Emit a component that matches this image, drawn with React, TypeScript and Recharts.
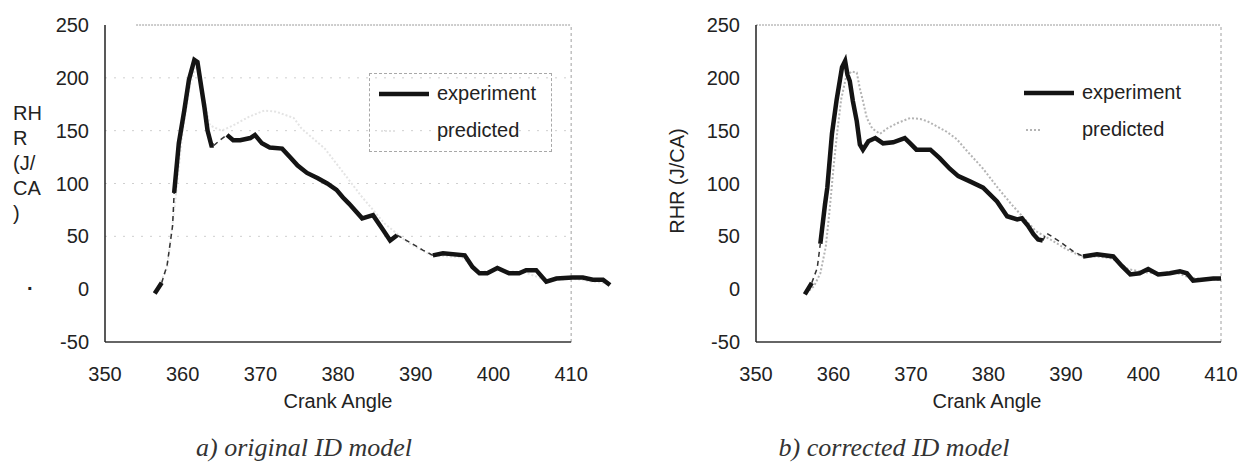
import React from "react";
import { LineChart, Line, XAxis, YAxis, ReferenceLine, Legend } from "recharts";

type Pt = [number, number | null];

const angleTicks = [350, 360, 370, 380, 390, 400, 410];
const rhrTicks = [-50, 0, 50, 100, 150, 200, 250];
const gridValues = [50, 100, 150, 200];

// a) original ID model
const expA: Pt[] = [
  [356.4, -4], [357.3, 6], [357.8, null],
  [358.9, 91], [359.5, 138], [360.2, 169], [360.8, 198], [361.5, 217], [361.9, 215],
  [362.4, 191], [362.8, 172], [363.2, 150], [363.7, 136], [364.0, 136], [364.8, null],
  [365.7, 146], [366.5, 141], [367.4, 141], [368.7, 143], [369.3, 146], [370.2, 138],
  [371.2, 134], [372.8, 133], [373.8, 125], [374.8, 117], [376.0, 110], [377.4, 105],
  [378.6, 100], [379.8, 94], [380.6, 87], [381.4, 81], [383.1, 67], [384.5, 70],
  [385.8, 56], [386.7, 46], [387.6, 51], [389.5, null],
  [392.2, 32], [393.5, 34], [396.3, 32], [397.3, 21], [398.2, 15], [399.2, 15],
  [400.5, 20], [402.0, 15], [403.3, 15], [404.2, 18], [405.5, 18], [406.8, 7],
  [408.1, 10], [410.2, 11], [411.5, 11], [412.8, 9], [414.1, 9], [415.0, 4],
];
const expABridge: Pt[] = [
  [357.3, 6], [358.0, 23], [358.7, 60], [358.9, 91], [361, null],
  [364.0, 136], [364.8, 141], [365.7, 146], [375, null],
  [387.6, 51], [389.3, 44], [390.9, 37], [392.2, 32],
];
const predA: Pt[] = [
  [356.5, -3], [358, 20], [359, 80], [360, 150], [361, 195], [361.8, 212], [362.5, 190],
  [363.5, 155], [365, 150], [366.5, 155], [368.5, 163], [370.5, 169], [372, 168],
  [374.3, 162], [375.3, 152], [378.3, 133], [380.5, 112], [383, 88], [386, 62],
  [389, 44], [392, 32], [396, 30], [398, 16], [400, 18], [404, 16], [407, 8],
  [410, 10], [415, 5],
];

// b) corrected ID model
const expB: Pt[] = [
  [356.3, -5], [357.2, 6], [357.8, null],
  [358.3, 43], [358.9, 80], [359.2, 96], [359.8, 147], [360.4, 179], [361.1, 210],
  [361.5, 216], [361.8, 203], [362.1, 197], [362.5, 178], [363.0, 159], [363.4, 137],
  [363.8, 132], [364.5, 140], [365.4, 143], [366.4, 138], [367.7, 139], [369.2, 143],
  [369.9, 138], [370.7, 132], [372.5, 132], [373.7, 124], [375.0, 114], [376.1, 107],
  [377.6, 102], [379.3, 96], [381.1, 83], [382.4, 69], [383.7, 66], [384.3, 67],
  [385.1, 60], [385.8, 52], [386.4, 47], [387.0, 46], [389.5, null],
  [392.2, 31], [394.0, 33], [396.1, 31], [397.2, 22], [398.3, 14], [399.5, 15],
  [400.6, 19], [401.9, 14], [403.4, 15], [404.7, 17], [405.6, 15], [406.4, 8],
  [407.5, 9], [409.0, 10], [410, 10],
];
const expBBridge: Pt[] = [
  [357.2, 6], [357.9, 20], [358.3, 43], [370, null],
  [387.0, 46], [387.5, 53], [389.2, 45], [390.9, 36], [392.2, 31],
];
const predB: Pt[] = [
  [356.5, -4], [357.5, 3], [358.3, 15], [359.0, 40], [359.5, 75], [360.0, 115],
  [360.5, 150], [361.0, 180], [361.6, 200], [362.3, 206], [363.0, 205], [363.4, 190],
  [363.8, 178], [364.3, 162], [365.0, 152], [366.0, 147], [366.9, 152], [368.2, 157],
  [369.9, 162], [371.2, 161], [372.1, 159], [374.6, 149], [375.9, 142], [377.2, 131],
  [379.3, 114], [381.3, 95], [383.0, 80], [384.6, 67], [386.1, 55], [388, 47],
  [390, 38], [392, 31], [394, 31], [396, 29], [398, 19], [400, 16], [402, 15],
  [404, 16], [406, 11], [408, 9], [410, 9],
];

const rows = (pts: Pt[]) => pts.map(([a, v]) => ({ a, v }));

const SANS = "'Liberation Sans', Arial, sans-serif";
const tickStyle = { fill: "#222", fontSize: 20, fontFamily: SANS };

function LegendBox({ payload, boxed, predColor }: any) {
  const items = (payload || [])
    .filter((p: any) => p.value === "experiment" || p.value === "predicted")
    .sort((a: any, b: any) => (a.value === "experiment" ? -1 : 0) - (b.value === "experiment" ? -1 : 0));
  return (
    <div
      style={{
        border: boxed ? "1px dashed #a8a8a8" : "none",
        height: 79,
        boxSizing: "border-box",
        fontFamily: SANS,
        fontSize: 20,
        color: "#222",
      }}
    >
      {items.map((it: any, i: number) => (
        <div key={it.value} style={{ display: "flex", alignItems: "center", height: 37, marginTop: i === 0 ? 1 : 0 }}>
          <svg width={58} height={10} style={{ marginLeft: 9 }}>
            {it.value === "experiment" ? (
              <line x1={0} y1={5} x2={50} y2={5} stroke="#141414" strokeWidth={4.5} />
            ) : (
              <line x1={2} y1={5} x2={16} y2={5} stroke={predColor} strokeWidth={2} strokeDasharray="2 2" />
            )}
          </svg>
          <span>{it.value}</span>
        </div>
      ))}
    </div>
  );
}

function Panel(props: {
  width: number;
  marginLeft: number;
  marginRight: number;
  xMax: number;
  exp: Pt[];
  bridge: Pt[];
  pred: Pt[];
  predColor: string;
  boxed: boolean;
  legendLeft: number;
  topFrom: number;
  grid: boolean;
}) {
  const { width, marginLeft, marginRight, xMax, exp, bridge, pred, predColor, boxed, legendLeft, topFrom, grid } = props;
  return (
    <LineChart
      width={width}
      height={464}
      margin={{ top: 25, right: marginRight, left: marginLeft, bottom: 82 }}
    >
      <XAxis
        dataKey="a"
        type="number"
        domain={[350, xMax]}
        ticks={angleTicks}
        interval={0}
        axisLine={false}
        tickLine={false}
        tickSize={0}
        tickMargin={25}
        height={40}
        tick={tickStyle}
      />
      <YAxis
        type="number"
        domain={[-50, 250]}
        ticks={rhrTicks}
        interval={0}
        axisLine={{ stroke: "#222", strokeWidth: 1.5 }}
        tickLine={false}
        tickSize={0}
        tickMargin={16}
        width={60}
        tick={tickStyle}
      />
      {grid &&
        gridValues.map((g) => (
          <ReferenceLine
            key={g}
            segment={[{ x: 350, y: g }, { x: 410, y: g }]}
            stroke="#cfcfcf"
            strokeDasharray="2 7"
          />
        ))}
      <ReferenceLine segment={[{ x: topFrom, y: 250 }, { x: 410, y: 250 }]} stroke="#9a9a9a" strokeDasharray="2 1" />
      <ReferenceLine segment={[{ x: 410, y: -50 }, { x: 410, y: 250 }]} stroke="#a0a0a0" strokeDasharray="3 3" />
      <ReferenceLine segment={[{ x: 350, y: -50 }, { x: 410, y: -50 }]} stroke="#333" strokeWidth={1.5} />
      <Line
        data={rows(pred)}
        dataKey="v"
        name="predicted"
        type="linear"
        stroke={predColor}
        strokeWidth={2}
        strokeDasharray="2 2"
        dot={false}
        isAnimationActive={false}
      />
      <Line
        data={rows(bridge)}
        dataKey="v"
        name="bridge"
        legendType="none"
        type="linear"
        stroke="#333"
        strokeWidth={1.5}
        strokeDasharray="5 4"
        dot={false}
        isAnimationActive={false}
      />
      <Line
        data={rows(exp)}
        dataKey="v"
        name="experiment"
        type="linear"
        stroke="#141414"
        strokeWidth={4.5}
        dot={false}
        isAnimationActive={false}
      />
      <Legend
        layout="vertical"
        align="center"
        verticalAlign="middle"
        wrapperStyle={{ left: legendLeft, top: 73, width: 183 }}
        content={(p: any) => <LegendBox payload={p.payload} boxed={boxed} predColor={predColor} />}
      />
    </LineChart>
  );
}

const textBase: React.CSSProperties = {
  position: "absolute",
  fontFamily: SANS,
  fontSize: 20,
  color: "#222",
  whiteSpace: "nowrap",
};
const captionBase: React.CSSProperties = {
  position: "absolute",
  fontFamily: "'Liberation Serif', 'Times New Roman', serif",
  fontStyle: "italic",
  fontSize: 26,
  color: "#333",
  whiteSpace: "nowrap",
  transform: "translate(-50%, -50%)",
};

export default function App() {
  return (
    <div style={{ position: "absolute", left: 0, top: 0, width: 1241, height: 464, background: "#fff", overflow: "hidden" }}>
      <div style={{ position: "absolute", left: 0, top: 0 }}>
        <Panel
          width={620}
          marginLeft={45}
          marginRight={10}
          xMax={415}
          exp={expA}
          bridge={expABridge}
          pred={predA}
          predColor="#e4e4e4"
          boxed={true}
          legendLeft={369}
          topFrom={354}
          grid={true}
        />
      </div>
      <div style={{ position: "absolute", left: 620, top: 0 }}>
        <Panel
          width={621}
          marginLeft={76}
          marginRight={20}
          xMax={410}
          exp={expB}
          bridge={expBBridge}
          pred={predB}
          predColor="#b4b4b4"
          boxed={false}
          legendLeft={395}
          topFrom={350}
          grid={false}
        />
      </div>

      <div style={{ ...textBase, left: 13, top: 101, lineHeight: "25px" }}>
        RH<br />R<br />(J/<br />CA<br />)
      </div>
      <div style={{ ...textBase, left: 27, top: 273, lineHeight: "20px", fontWeight: "bold" }}>.</div>
      <div style={{ ...textBase, left: 338, top: 401, transform: "translate(-50%, -50%)" }}>Crank Angle</div>
      <div style={{ ...textBase, left: 987, top: 401, transform: "translate(-50%, -50%)" }}>Crank Angle</div>
      <div style={{ ...textBase, left: 677, top: 181, transform: "translate(-50%, -50%) rotate(-90deg)" }}>RHR (J/CA)</div>

      <div style={{ ...captionBase, left: 304, top: 448 }}>a) original ID model</div>
      <div style={{ ...captionBase, left: 894, top: 448 }}>b) corrected ID model</div>
    </div>
  );
}
